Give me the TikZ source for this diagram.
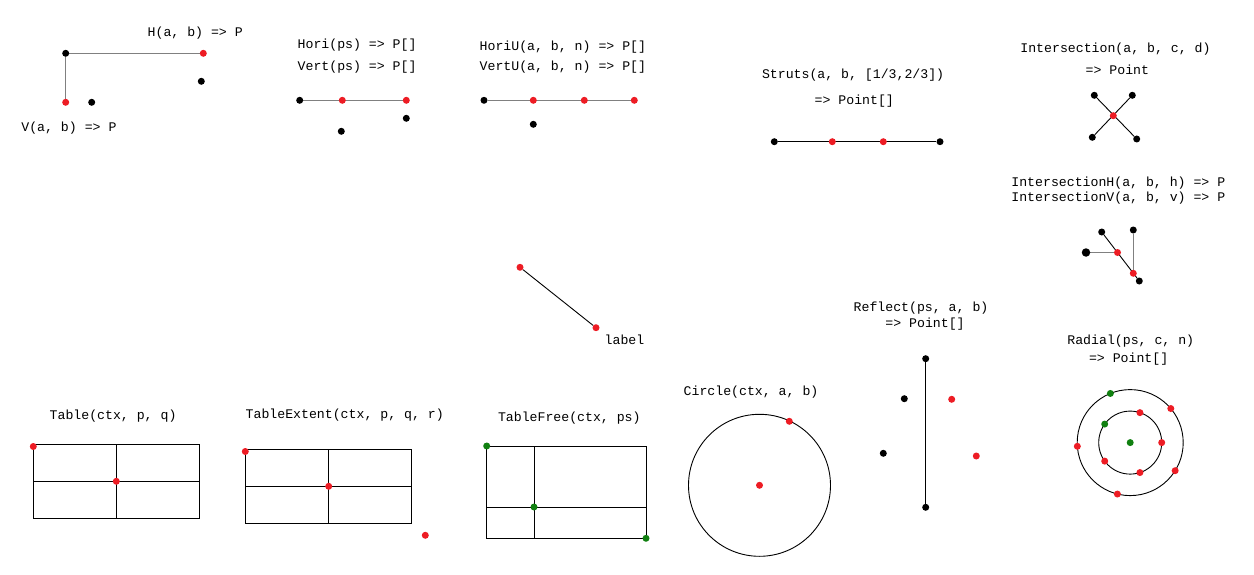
\documentclass[tikz,border=0pt]{standalone}
\usepackage{fontspec}
\newfontfamily\codefont{Liberation Mono}
\usetikzlibrary{positioning,backgrounds}
\definecolor{dotred}{RGB}{237,28,36}
\definecolor{dotgreen}{RGB}{16,128,16}
\definecolor{linegray}{RGB}{128,128,128}
\tikzset{
  dot/.style={circle, inner sep=0pt, minimum size=7pt},
  blackdot/.style={dot, fill=black},
  reddot/.style={dot, fill=dotred},
  greendot/.style={dot, fill=dotgreen},
  code/.style={font=\codefont\fontsize{13.2}{15}\selectfont, inner sep=0pt, anchor=west},
  grayline/.style={draw=linegray, line width=1pt},
  blackline/.style={draw=black, line width=0.9pt},
}

\begin{document}
\begin{tikzpicture}[x=1pt, y=-1pt, on grid]
 \useasboundingbox (0,0) rectangle (1254,575);
 % H / V
 \node [code] (lblH) at (147.5,33.3) {H(a, b) => P};
 \node [code] (lblV) at (21.2,128.3) {V(a, b) => P};
 \node [blackdot] (hvA) at (65.7,53.3) {};
 \node [reddot, right=137.6pt of hvA] (hvH) {};
 \node [reddot, below=49pt of hvA] (hvV) {};
 \node [blackdot, right=26pt of hvV] (hvB) {};
 \node [blackdot, below left=28pt and 2pt of hvH] (hvC) {};
 % Hori / Vert
 \node [code] (lblHori) at (297.5,45) {Hori(ps) => P[]};
 \node [code] (lblVert) at (297.5,66.7) {Vert(ps) => P[]};
 \node [blackdot] (hA) at (299.7,100.3) {};
 \node [reddot, right=42.6pt of hA] (hB) {};
 \node [reddot, right=64pt of hB] (hC) {};
 \node [blackdot, below=18pt of hC] (hD) {};
 \node [blackdot, below left=31pt and 1pt of hB] (hE) {};
 % HoriU / VertU
 \node [code] (lblHoriU) at (479.5,46.7) {HoriU(a, b, n) => P[]};
 \node [code] (lblVertU) at (479.5,66.7) {VertU(a, b, n) => P[]};
 \node [blackdot] (uA) at (484,100.3) {};
 \node [reddot, right=49.3pt of uA] (uB) {};
 \node [reddot, right=51pt of uB] (uC) {};
 \node [reddot, right=50pt of uC] (uD) {};
 \node [blackdot, below=24pt of uB] (uE) {};
 % Struts
 \node [code] (lblStruts) at (761.8,75.3) {Struts(a, b, [1/3,2/3])};
 \node [code] (lblStrutsR) at (814.5,100.7) {=> Point[]};
 \node [blackdot] (sA) at (774.3,141.7) {};
 \node [reddot, right=58pt of sA] (sB) {};
 \node [reddot, right=51pt of sB] (sC) {};
 \node [blackdot, right=56.7pt of sC] (sD) {};
 % Intersection
 \node [code] (lblInt) at (1020.2,49.3) {Intersection(a, b, c, d)};
 \node [code] (lblIntR) at (1085.5,70) {=> Point};
 \node [blackdot] (iA) at (1094.3,95.3) {};
 \node [blackdot, right=38pt of iA] (iB) {};
 \node [blackdot] (iC) at (1092.3,137.3) {};
 \node [blackdot] (iD) at (1136.7,139) {};
 \node [reddot] (iX) at (1113.3,115.7) {};
 % IntersectionH / IntersectionV
 \node [code] (lblIntH) at (1011.2,182.7) {IntersectionH(a, b, h) => P};
 \node [code] (lblIntV) at (1011.2,198.3) {IntersectionV(a, b, v) => P};
 \node [blackdot] (jA) at (1101.7,232) {};
 \node [blackdot] (jB) at (1139.3,281) {};
 \node [blackdot, minimum size=8.5pt] (jH) at (1086,252.5) {};
 \node [reddot, right=31.5pt of jH] (jP) {};
 \node [blackdot] (jV) at (1133.3,230) {};
 \node [reddot, below=43.3pt of jV] (jQ) {};
 % label
 \node [reddot] (lA) at (520,267.3) {};
 \node [reddot, below right=60.4pt and 76pt of lA] (lB) {};
 \node [code] (lblLabel) at (604.5,340) {label};
 % Table
 \node [code] (lblTable) at (49.5,416) {Table(ctx, p, q)};
 \coordinate (tTL) at (33.3,444.3);
 \coordinate (tBR) at (199.3,518.3);
 \node [reddot] (tP) at (33.3,446.5) {};
 \node [reddot] (tQ) at (116.3,481.3) {};
 % TableExtent
 \node [code] (lblExtent) at (245.5,415) {TableExtent(ctx, p, q, r)};
 \coordinate (eTL) at (245.3,449.3);
 \coordinate (eBR) at (411.8,523.3);
 \node [reddot] (eP) at (245.3,451.5) {};
 \node [reddot] (eQ) at (328.7,486.3) {};
 \node [reddot] (eR) at (425.3,535.3) {};
 % TableFree
 \node [code] (lblFree) at (497.8,418.3) {TableFree(ctx, ps)};
 \node [greendot] (fA) at (486.7,446) {};
 \node [greendot] (fB) at (534,507) {};
 \node [greendot] (fC) at (646,538.3) {};
 % Circle
 \node [code] (lblCircle) at (683.5,392.3) {Circle(ctx, a, b)};
 \node [reddot] (cA) at (759.5,485.3) {};
 \node [reddot] (cB) at (789.3,421.3) {};
 % Reflect
 \node [code] (lblReflect) at (853.5,308.3) {Reflect(ps, a, b)};
 \node [code] (lblReflectR) at (885.2,324.3) {=> Point[]};
 \node [blackdot] (rA) at (925.7,358.7) {};
 \node [blackdot, below=148.6pt of rA] (rB) {};
 \node [blackdot] (rC) at (904.3,398.7) {};
 \node [blackdot] (rD) at (883.3,453.3) {};
 \node [reddot] (rE) at (951.7,399.3) {};
 \node [reddot] (rF) at (976.3,456) {};
 % Radial
 \node [code] (lblRadial) at (1067.2,340.7) {Radial(ps, c, n)};
 \node [code] (lblRadialR) at (1088.8,359.3) {=> Point[]};
 \node [greendot] (qC) at (1130.2,442.6) {};
 \node [reddot] (qI0) at ([shift={(0:31.5pt)}]qC) {};
 \node [reddot] (qI1) at ([shift={(72:31.5pt)}]qC) {};
 \node [greendot] (qI2) at ([shift={(144:31.5pt)}]qC) {};
 \node [reddot] (qI3) at ([shift={(216:31.5pt)}]qC) {};
 \node [reddot] (qI4) at ([shift={(288:31.5pt)}]qC) {};
 \node [reddot] (qO0) at ([shift={(40:53pt)}]qC) {};
 \node [greendot] (qO1) at ([shift={(112:53pt)}]qC) {};
 \node [reddot] (qO2) at ([shift={(184:53pt)}]qC) {};
 \node [reddot] (qO3) at ([shift={(256:53pt)}]qC) {};
 \node [reddot] (qO4) at ([shift={(328:53pt)}]qC) {};

 \begin{scope}[on background layer]
  \draw [grayline] (hvV) -- (hvA) -- (hvH);
  \draw [grayline] (hA) -- (hC);
  \draw [grayline] (uA) -- (uD);
  \draw [blackline] (sA) -- (sD);
  \draw [blackline] (iA) -- (iD);
  \draw [blackline] (iB) -- (iC);
  \draw [grayline] (jH) -- (jP);
  \draw [grayline] (jV) -- (jQ);
  \draw [blackline] (jA) -- (jB);
  \draw [blackline] (lA) -- (lB);
  \draw [blackline] (tTL) rectangle (tBR);
  \draw [blackline] (tQ.center |- tTL) -- (tQ.center |- tBR);
  \draw [blackline] (tTL |- tQ.center) -- (tBR |- tQ.center);
  \draw [blackline] (eTL) rectangle (eBR);
  \draw [blackline] (eQ.center |- eTL) -- (eQ.center |- eBR);
  \draw [blackline] (eTL |- eQ.center) -- (eBR |- eQ.center);
  \draw [blackline] (fA.center) rectangle (fC.center);
  \draw [blackline] (fB.center |- fA.center) -- (fB.center |- fC.center);
  \draw [blackline] (fA.center |- fB.center) -- (fC.center |- fB.center);
  \draw [blackline] (cA.center) circle (71pt);
  \draw [blackline, line width=1.2pt] (rA) -- (rB);
  \draw [blackline] (qC.center) circle (53pt);
  \draw [blackline] (qC.center) circle (31.5pt);
 \end{scope}
\end{tikzpicture}
\end{document}
